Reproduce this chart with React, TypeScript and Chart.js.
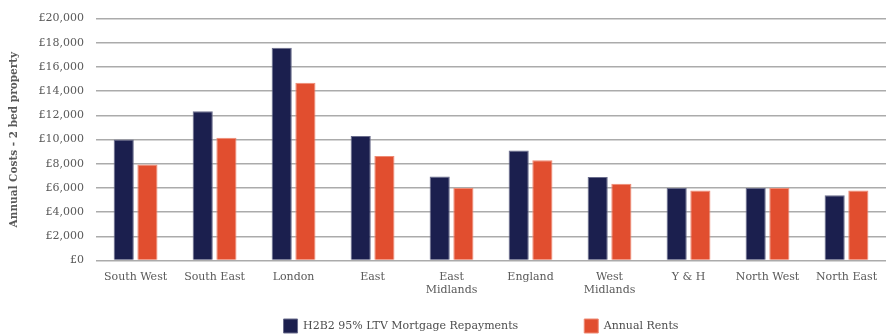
import React, { useEffect, useRef } from "react";
import { Chart, registerables } from "chart.js";

Chart.register(...registerables);

const categories: (string | string[])[] = [
  "South West",
  "South East",
  "London",
  "East",
  ["East", "Midlands"],
  "England",
  ["West", "Midlands"],
  "Y & H",
  "North West",
  "North East",
];
const mortgageValues = [10000, 12350, 17600, 10300, 6950, 9100, 6900, 6000, 6000, 5400];
const rentValues = [7950, 10150, 14700, 8650, 6000, 8300, 6350, 5800, 6000, 5800];
const seriesNames = ["H2B2 95% LTV Mortgage Repayments", "Annual Rents"];
const yTitle = "Annual Costs - 2 bed property";

const FONT = "'DejaVu Serif', 'Liberation Serif', serif";
const LEGEND_PAD = 66;

const legendTweak = {
  id: "legendTweak",
  afterInit(chart: any) {
    const lg = chart.legend;
    if (!lg) return;
    const orig = lg.fit.bind(lg);
    lg.fit = function () {
      orig();
      this.height = 35;
    };
  },
  afterLayout(chart: any) {
    const lg = chart.legend;
    if (!lg) return;
    lg.top = 319 - LEGEND_PAD;
    lg.bottom = chart.height;
    lg.left += 34;
    lg.right += 34;
  },
};

export default function App() {
  const ref = useRef<HTMLCanvasElement | null>(null);
  useEffect(() => {
    if (!ref.current) return;
    const chart = new Chart(ref.current, {
      type: "bar",
      data: {
        labels: categories,
        datasets: [
          {
            label: seriesNames[0],
            data: mortgageValues,
            backgroundColor: "#1b1f4e",
            borderColor: "#6a6d8c",
            borderWidth: 1,
            categoryPercentage: 0.6,
            barPercentage: 0.85,
          },
          {
            label: seriesNames[1],
            data: rentValues,
            backgroundColor: "#e14e2f",
            borderColor: "#ee8a74",
            borderWidth: 1,
            categoryPercentage: 0.6,
            barPercentage: 0.85,
          },
        ],
      },
      plugins: [legendTweak],
      options: {
        animation: false,
        responsive: true,
        maintainAspectRatio: false,
        layout: { padding: { top: 10, right: 0, left: 8, bottom: 2 } },
        plugins: {
          tooltip: { enabled: false },
          legend: {
            position: "bottom",
            labels: {
              boxWidth: 14,
              boxHeight: 14,
              padding: LEGEND_PAD,
              color: "#4d4d4d",
              font: { family: FONT, size: 11 },
            },
          },
        },
        scales: {
          x: {
            grid: { display: false },
            border: { display: false },
            ticks: {
              color: "#595959",
              font: { family: FONT, size: 11 },
              maxRotation: 0,
              autoSkip: false,
              padding: 2,
            },
          },
          y: {
            min: 0,
            max: 20000,
            border: { display: false },
            grid: { color: "#ababab", lineWidth: 1.5, drawTicks: false },
            ticks: {
              stepSize: 2000,
              color: "#595959",
              padding: 12,
              font: { family: FONT, size: 11 },
              callback: (v: any) => "£" + Number(v).toLocaleString("en-GB"),
            },
            title: {
              display: true,
              text: yTitle,
              color: "#595959",
              font: { family: FONT, size: 10.5, weight: "bold" },
              padding: { top: 0, bottom: 6 },
            },
          },
        },
      },
    });
    return () => chart.destroy();
  }, []);
  return (
    <div style={{ position: "absolute", left: 0, top: 0, width: 886, height: 336 }}>
      <canvas ref={ref} />
    </div>
  );
}
